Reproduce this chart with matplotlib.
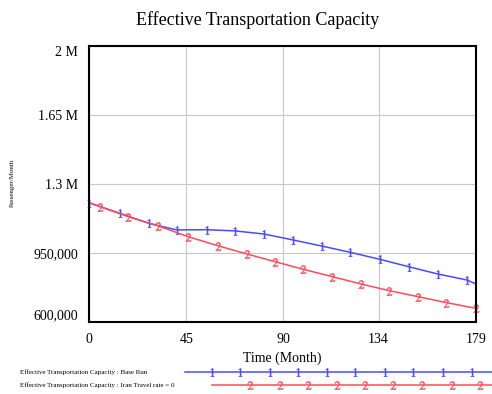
import matplotlib
matplotlib.use("Agg")
import matplotlib.pyplot as plt
from matplotlib.lines import Line2D

plt.rcParams['font.family'] = ['Liberation Serif', 'DejaVu Serif']
plt.rcParams['mathtext.fontset'] = 'stix'

# Base run (series 1)
t_base = [0, 14.3, 27.8, 40.5, 54.4, 67.5, 81, 94.4, 107.8, 121, 134.5, 148, 161.5, 174.8, 179]
cap_base = [1205000, 1151000, 1100000, 1067000, 1068000, 1062000, 1046000, 1016000,
            985000, 953000, 918000, 880000, 843000, 813000, 793000]

# Iran travel rate = 0 (series 2)
t_iran = [0, 5, 18.2, 31.8, 45.8, 59.5, 73, 86, 99.2, 112.5, 125.7, 138.8, 152.3, 165.4, 179]
cap_iran = [1205000, 1185000, 1134000, 1088000, 1033000, 987000, 945000, 906000,
            867000, 830000, 793000, 759000, 728000, 698000, 669000]

x_ticks = [0, 45, 90, 134, 179]
y_ticks = [600000, 950000, 1300000, 1650000, 2000000]
y_labels = ['600,000', '950,000', '1.3 M', '1.65 M', '2 M']

blue = '#4a4aff'
red = '#ff4a5a'

fig = plt.figure(figsize=(4.92, 3.94), dpi=100)
ax = fig.add_axes([0.181, 0.183, 0.786, 0.700])

ax.plot(t_base, cap_base, color=blue, lw=1.1, marker='$1$', ms=6, mew=0.3,
        markevery=list(range(0, 14)), clip_on=False)
ax.plot(t_iran, cap_iran, color=red, lw=1.1, marker='$2$', ms=6, mew=0.3,
        markevery=list(range(1, 15)), clip_on=False)

ax.set_xlim(0, 179)
ax.set_ylim(600000, 2000000)
ax.set_xticks(x_ticks)
ax.set_xticklabels([str(v) for v in x_ticks], fontsize=10)
ax.set_yticks(y_ticks)
ax.set_yticklabels(y_labels, fontsize=10)
ax.tick_params(length=0, pad=8)
ylbls = ax.get_yticklabels()
ylbls[0].set_va('bottom')
ylbls[-1].set_va('top')

ax.grid(True, color='#c8c8c8', lw=0.8)
for s in ax.spines.values():
    s.set_linewidth(1.5)
    s.set_color('black')

ax.set_xlabel('Time (Month)', fontsize=10, labelpad=4)
fig.text(258 / 492, 1 - 20 / 394, 'Effective Transportation Capacity',
         fontsize=13, ha='center', va='center')
fig.text(12 / 492, 1 - 183 / 394, 'Passenger/Month', fontsize=5,
         rotation=90, ha='center', va='center')

# legend rows drawn under the axes
fig.text(20 / 492, 1 - 372 / 394, 'Effective Transportation Capacity : Base Run',
         fontsize=5, va='center')
fig.text(20 / 492, 1 - 385 / 394, 'Effective Transportation Capacity : Iran Travel rate = 0',
         fontsize=5, va='center')
leg1_x = [185, 212, 240, 270, 298, 327, 355, 385, 413, 443, 472, 492]
leg2_x = [212, 250, 280, 308, 337, 365, 393, 422, 452, 480, 492]
fig.add_artist(Line2D([v / 492 for v in leg1_x], [1 - 372 / 394] * len(leg1_x),
                      color=blue, lw=1.1, marker='$1$', ms=6, mew=0.3,
                      markevery=list(range(1, len(leg1_x) - 1))))
fig.add_artist(Line2D([v / 492 for v in leg2_x], [1 - 385 / 394] * len(leg2_x),
                      color=red, lw=1.1, marker='$2$', ms=6, mew=0.3,
                      markevery=list(range(1, len(leg2_x) - 1))))

fig.savefig('out.png', dpi=100)
